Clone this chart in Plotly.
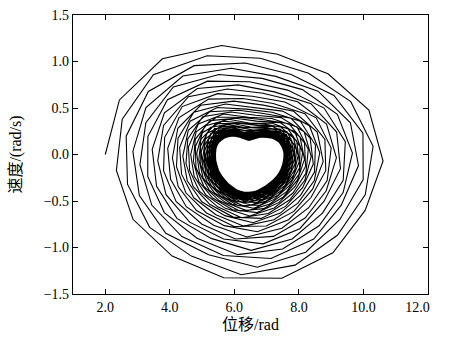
import numpy as np
import plotly.graph_objects as go

# ---- values ----
# inner limit cycle (boundary of the white "heart")
heart_x = [5.42, 5.50, 5.61, 5.85, 6.20, 6.44, 6.82, 7.23, 7.47, 7.55, 7.40, 6.96, 6.38, 5.80, 5.50]
heart_y = [-0.06, 0.16, 0.20, 0.21, 0.19, 0.15, 0.19, 0.20, 0.15, 0.02, -0.20, -0.34, -0.43, -0.31, -0.17]
# first (outermost) revolution of the trajectory, starting at (2.0, 0.0)
outer_x = [2.00, 2.05, 3.28, 5.50, 7.67, 9.50, 10.47, 10.45, 9.86, 8.80, 7.77, 6.17, 5.03, 3.60, 2.35]
outer_y = [0.00, 0.26, 0.94, 1.17, 1.03, 0.72, 0.31, -0.38, -0.68, -1.13, -1.30, -1.38, -1.22, -0.99, -0.20]
# x where each successive revolution crosses v = 0 on the left side
loop_left_x = [2.00, 2.35, 2.62, 2.86, 3.08, 3.28, 3.46, 3.63, 3.79, 3.94, 4.08, 4.20,
               4.31, 4.41, 4.50, 4.58, 4.66, 4.73, 4.79, 4.85, 4.90, 4.95, 4.99, 5.03,
               5.07, 5.10, 5.13, 5.16, 5.18, 5.20, 5.22, 5.24, 5.26, 5.28, 5.29, 5.30,
               5.31, 5.32, 5.33, 5.34, 5.35, 5.36, 5.37, 5.375, 5.38, 5.385, 5.39, 5.395,
               5.40, 5.405, 5.41, 5.413, 5.416, 5.418, 5.42, 5.42, 5.42, 5.42, 5.42, 5.42]
steps_per_loop = 14.3

x_ticks = [2, 4, 6, 8, 10, 12]
x_tick_text = ["2.0", "4.0", "6.0", "8.0", "10.0", "12.0" + "\u00a0" * 6]
y_ticks = [-1.5, -1.0, -0.5, 0.0, 0.5, 1.0, 1.5]
y_tick_text = ["\u22121.5", "\u22121.0", "\u22120.5", "0.0", "0.5", "1.0", "1.5"]

# ---- build the polyline from the read values ----
cx, cy, sx, sy = 6.4, -0.08, 4.2, 1.3


def polar(xs, ys):
    u = (np.asarray(xs) - cx) / sx
    v = (np.asarray(ys) - cy) / sy
    return np.arctan2(v, u), np.hypot(u, v)


def pinterp(theta, ang, rad):
    o = np.argsort(ang)
    return np.interp(theta, ang[o], rad[o], period=2 * np.pi)


ah, rh = polar(heart_x, heart_y)
ao, ro = polar(outer_x, outer_y)
a0 = ao[0]
loops = np.arange(len(loop_left_x))
fvals = (5.42 - np.array(loop_left_x)) / (5.42 - loop_left_x[0])
phase_o = np.mod(a0 - ao, 2 * np.pi) / (2 * np.pi)
f_o = np.interp(phase_o, loops, fvals)
rh_o = pinterp(ao, ah, rh)
env = rh_o + (ro - rh_o) / f_o

n = int((len(loop_left_x) - 1) * steps_per_loop)
phi = np.arange(n + 1) / steps_per_loop
theta = a0 - 2 * np.pi * phi
fk = np.interp(phi, loops, fvals)
rhk = pinterp(theta, ah, rh)
rek = pinterp(theta, ao, env)
r = rhk + fk * (rek - rhk)
xs = cx + sx * r * np.cos(theta)
ys = cy + sy * r * np.sin(theta)

fig = go.Figure(go.Scatter(x=xs, y=ys, mode="lines",
                           line=dict(color="black", width=1.1), hoverinfo="skip"))

tick_font = "Liberation Serif, DejaVu Serif, serif"
title_font = "Liberation Serif, Noto Sans CJK SC, serif"
axis_common = dict(showline=True, linecolor="black", linewidth=1.2, mirror="ticks",
                   ticks="inside", ticklen=5, tickwidth=1, tickcolor="black",
                   showgrid=False, zeroline=False, ticklabeloverflow="allow",
                   tickfont=dict(family=tick_font, size=14, color="black"))

fig.update_layout(
    width=459, height=341,
    margin=dict(l=73, r=9, t=8, b=47),
    paper_bgcolor="white", plot_bgcolor="white",
    showlegend=False,
    font=dict(family=tick_font, color="black"),
    xaxis=dict(range=[1, 12], tickvals=x_ticks, ticktext=x_tick_text,
               title=dict(text="位移/rad", font=dict(family=title_font, size=16), standoff=4),
               **axis_common),
    yaxis=dict(range=[-1.5, 1.5], tickvals=y_ticks, ticktext=y_tick_text,
               title=dict(text="速度/(rad/s)", font=dict(family=title_font, size=16), standoff=18),
               **axis_common),
)

fig.write_html("out.html")
